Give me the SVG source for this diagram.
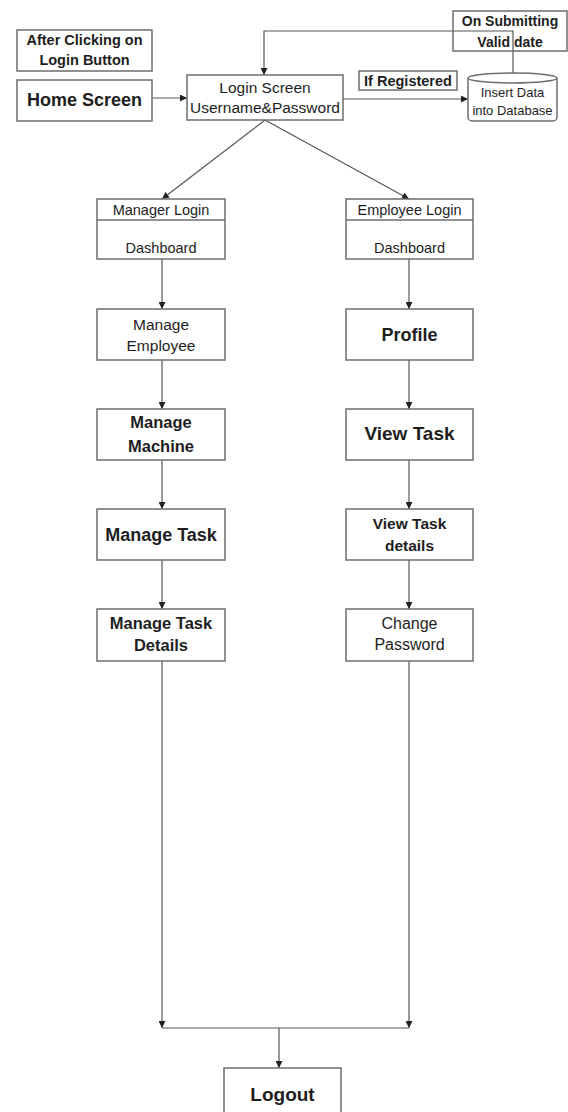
<svg xmlns="http://www.w3.org/2000/svg" width="568" height="1112" viewBox="0 0 568 1112">
<style>
.box{fill:#fff;stroke:#6e6e6e;stroke-width:1.5}
.nobg{fill:none;stroke:#6e6e6e;stroke-width:1.5}
.t{font-family:"Liberation Sans",Arial,sans-serif;fill:#1e1e1e;text-anchor:middle}
.b{font-weight:bold}
.c{fill:none;stroke:#555;stroke-width:1.2}
</style>
<defs>
<marker id="ah" viewBox="0 0 8 8" refX="8" refY="4" markerWidth="7" markerHeight="7" markerUnits="userSpaceOnUse" orient="auto">
<path d="M0,0 L8,4 L0,8 z" fill="#222"/>
</marker>
</defs>
<rect width="568" height="1112" fill="#fff"/>

<g id="connectors">
<path class="c" d="M152,98 H187" marker-end="url(#ah)"/>
<path class="c" d="M343,99 H468" marker-end="url(#ah)"/>
<path class="c" d="M513,73 V31 H264 V75" marker-end="url(#ah)"/>
<path class="c" d="M265,120 L162,199" marker-end="url(#ah)"/>
<path class="c" d="M265,120 L409,199" marker-end="url(#ah)"/>
<path class="c" d="M162,259 V309" marker-end="url(#ah)"/>
<path class="c" d="M162,360 V409" marker-end="url(#ah)"/>
<path class="c" d="M162,460 V509" marker-end="url(#ah)"/>
<path class="c" d="M162,560 V609" marker-end="url(#ah)"/>
<path class="c" d="M162,661 V1028" marker-end="url(#ah)"/>
<path class="c" d="M409,259 V309" marker-end="url(#ah)"/>
<path class="c" d="M409,360 V409" marker-end="url(#ah)"/>
<path class="c" d="M409,460 V509" marker-end="url(#ah)"/>
<path class="c" d="M409,560 V609" marker-end="url(#ah)"/>
<path class="c" d="M409,661 V1028" marker-end="url(#ah)"/>
<path class="c" d="M162,1028 H409"/>
<path class="c" d="M279,1028 V1068" marker-end="url(#ah)"/>
</g>

<g id="after-clicking">
<rect class="box" x="17" y="30" width="135" height="41"/>
<text class="t b" x="84.5" y="45" font-size="14.5">After Clicking on</text>
<text class="t b" x="84.5" y="65" font-size="14.5">Login Button</text>
</g>

<g id="home-screen">
<rect class="box" x="17" y="80" width="135" height="41"/>
<text class="t b" x="84.5" y="106" font-size="18">Home Screen</text>
</g>

<g id="login-screen">
<rect class="box" x="187" y="75" width="156" height="45"/>
<text class="t" x="265" y="93" font-size="15.5">Login Screen</text>
<text class="t" x="265" y="113" font-size="15.5">Username&amp;Password</text>
</g>

<g id="if-registered">
<rect class="box" x="359" y="71" width="98" height="19"/>
<text class="t b" x="408" y="86" font-size="14.5">If Registered</text>
</g>

<g id="database">
<path class="box" d="M468,78 a44.5,5 0 0,1 89,0 v39 a4,4 0 0,1 -4,4 h-81 a4,4 0 0,1 -4,-4 z"/>
<path class="nobg" d="M468,78 a44.5,5 0 0,0 89,0"/>
<text class="t" x="512.5" y="97" font-size="13">Insert Data</text>
<text class="t" x="512.5" y="115" font-size="13">into Database</text>
</g>

<g id="on-submitting">
<rect class="nobg" x="453" y="11" width="114" height="40"/>
<text class="t b" x="510" y="26" font-size="14">On Submitting</text>
<text class="t b" x="510" y="47" font-size="14">Valid date</text>
</g>

<g id="manager-login">
<rect class="box" x="97" y="199" width="128" height="60"/>
<line class="nobg" x1="97" y1="220" x2="225" y2="220"/>
<text class="t" x="161" y="215" font-size="14.5">Manager Login</text>
<text class="t" x="161" y="253" font-size="14.5">Dashboard</text>
</g>

<g id="employee-login">
<rect class="box" x="346" y="199" width="127" height="60"/>
<line class="nobg" x1="346" y1="220" x2="473" y2="220"/>
<text class="t" x="409.5" y="215" font-size="14.5">Employee Login</text>
<text class="t" x="409.5" y="253" font-size="14.5">Dashboard</text>
</g>

<g id="manage-employee">
<rect class="box" x="97" y="309" width="128" height="51"/>
<text class="t" x="161" y="330" font-size="15.5">Manage</text>
<text class="t" x="161" y="351" font-size="15.5">Employee</text>
</g>

<g id="manage-machine">
<rect class="box" x="97" y="409" width="128" height="51"/>
<text class="t b" x="161" y="428" font-size="16.5">Manage</text>
<text class="t b" x="161" y="452" font-size="16.5">Machine</text>
</g>

<g id="manage-task">
<rect class="box" x="97" y="509" width="128" height="51"/>
<text class="t b" x="161" y="541" font-size="18">Manage Task</text>
</g>

<g id="manage-task-details">
<rect class="box" x="97" y="609" width="128" height="52"/>
<text class="t b" x="161" y="629" font-size="16.5">Manage Task</text>
<text class="t b" x="161" y="651" font-size="16.5">Details</text>
</g>

<g id="profile">
<rect class="box" x="346" y="309" width="127" height="51"/>
<text class="t b" x="409.5" y="341" font-size="18">Profile</text>
</g>

<g id="view-task">
<rect class="box" x="346" y="409" width="127" height="51"/>
<text class="t b" x="409.5" y="440" font-size="19">View Task</text>
</g>

<g id="view-task-details">
<rect class="box" x="346" y="509" width="127" height="51"/>
<text class="t b" x="409.5" y="529" font-size="15.5">View Task</text>
<text class="t b" x="409.5" y="551" font-size="15.5">details</text>
</g>

<g id="change-password">
<rect class="box" x="346" y="609" width="127" height="52"/>
<text class="t" x="409.5" y="629" font-size="16">Change</text>
<text class="t" x="409.5" y="650" font-size="16">Password</text>
</g>

<g id="logout">
<rect class="box" x="224" y="1068" width="117" height="60"/>
<text class="t b" x="282.5" y="1101" font-size="19">Logout</text>
</g>
</svg>
